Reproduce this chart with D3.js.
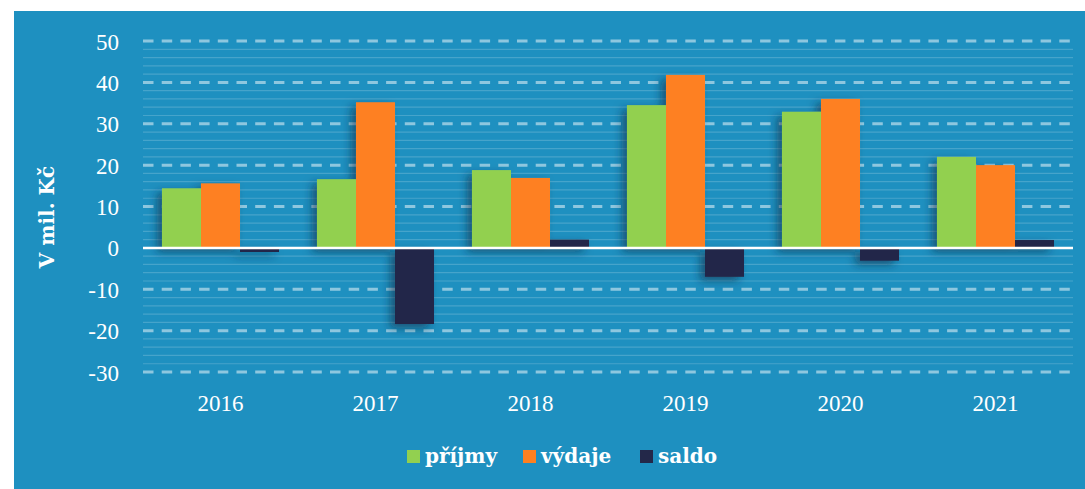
<!DOCTYPE html>
<html><head><meta charset="utf-8">
<script src="https://cdn.jsdelivr.net/npm/d3@7"></script>
<style>html,body{margin:0;padding:0;background:#fff;}svg{display:block;}</style>
</head><body>
<svg id="c" width="1085" height="489"></svg>
<script>
const years = ["2016","2017","2018","2019","2020","2021"];
const seriesNames = ["příjmy","výdaje","saldo"];
const prijmy = [14.4, 16.6, 18.8, 34.5, 32.9, 22.0];
const vydaje = [15.6, 35.2, 16.9, 41.8, 36.0, 20.0];
const saldo  = [-1.0, -18.4, 2.0, -7.0, -3.1, 1.9];
const yTicks = [50,40,30,20,10,0,-10,-20,-30];
const colors = ["#92d050","#fe8020","#232849"];

const svg = d3.select("#c");
const W=1085,H=489;
svg.append("rect").attr("x",14).attr("y",11).attr("width",W-14).attr("height",H-11).attr("fill","#1e90c0");

const defs = svg.append("defs");
const f = defs.append("filter").attr("id","sh").attr("x","-30%").attr("y","-30%").attr("width","160%").attr("height","160%");
f.append("feDropShadow").attr("dx",-5).attr("dy",4).attr("stdDeviation",4).attr("flood-color","#0a2a40").attr("flood-opacity",0.55);

const left=143,right=1073;
const y = d3.scaleLinear().domain([-30,50]).range([372,41]);
const x0 = d3.scaleBand().domain(years).range([left,right]).paddingInner(0.245).paddingOuter(0.1225);
const x1 = d3.scaleBand().domain(seriesNames).range([0,x0.bandwidth()]);

// minor grid
const minor = d3.range(-30,50.01,2).filter(v=>v%10!==0);
svg.append("g").selectAll("line").data(minor).join("line")
  .attr("x1",left).attr("x2",right).attr("y1",d=>y(d)).attr("y2",d=>y(d))
  .attr("stroke","rgba(255,255,255,0.18)").attr("stroke-width",1.2);
// major dashed grid
svg.append("g").selectAll("line").data(yTicks.filter(v=>v!==0)).join("line")
  .attr("x1",left).attr("x2",right).attr("y1",d=>y(d)).attr("y2",d=>y(d))
  .attr("stroke","#8ec7df").attr("stroke-width",3).attr("stroke-dasharray","10.5,8.2");

// y axis labels
const yAxis = d3.axisLeft(y).tickValues(yTicks).tickSize(0).tickPadding(0).tickFormat(d=>String(d));
const ga = svg.append("g").attr("transform","translate(119,0)").call(yAxis);
ga.select(".domain").remove();
ga.selectAll("text").attr("fill","#fff").attr("font-family","Liberation Serif").attr("font-size",23).attr("dy","0.35em");

// x axis labels
const xAxis = d3.axisBottom(x0).tickSize(0).tickPadding(0);
const gx = svg.append("g").attr("transform","translate(0,395)").call(xAxis);
gx.select(".domain").remove();
gx.selectAll("text").attr("fill","#fff").attr("font-family","Liberation Serif").attr("font-size",23).attr("dy","0.71em");

// bars
const data = years.map((yr,i)=>({yr, vals:[prijmy[i],vydaje[i],saldo[i]]}));
const gb = svg.append("g").attr("filter","url(#sh)");
data.forEach(d=>{
  d.vals.forEach((v,j)=>{
    gb.append("rect")
      .attr("x",x0(d.yr)+x1(seriesNames[j]))
      .attr("width",x1.bandwidth())
      .attr("y",y(Math.max(0,v)))
      .attr("height",Math.abs(y(v)-y(0)))
      .attr("fill",colors[j]);
  });
});

// zero line
svg.append("line").attr("x1",left).attr("x2",right).attr("y1",y(0)).attr("y2",y(0))
  .attr("stroke","#fff").attr("stroke-width",2.5);

// y title
svg.append("text").attr("transform","translate(54,217) rotate(-90)")
  .attr("text-anchor","middle").attr("fill","#fff")
  .attr("font-family","DejaVu Serif").attr("font-weight","bold").attr("font-size",20)
  .text("V mil. Kč");

// legend
const legX=[407,523,640];
const lg = svg.append("g");
seriesNames.forEach((n,i)=>{
  lg.append("rect").attr("x",legX[i]).attr("y",450).attr("width",13).attr("height",13).attr("fill",colors[i]);
  lg.append("text").attr("x",legX[i]+18).attr("y",463).attr("fill","#fff")
    .attr("font-family","DejaVu Serif").attr("font-weight","bold").attr("font-size",20).text(n);
});
</script>
</body></html>
